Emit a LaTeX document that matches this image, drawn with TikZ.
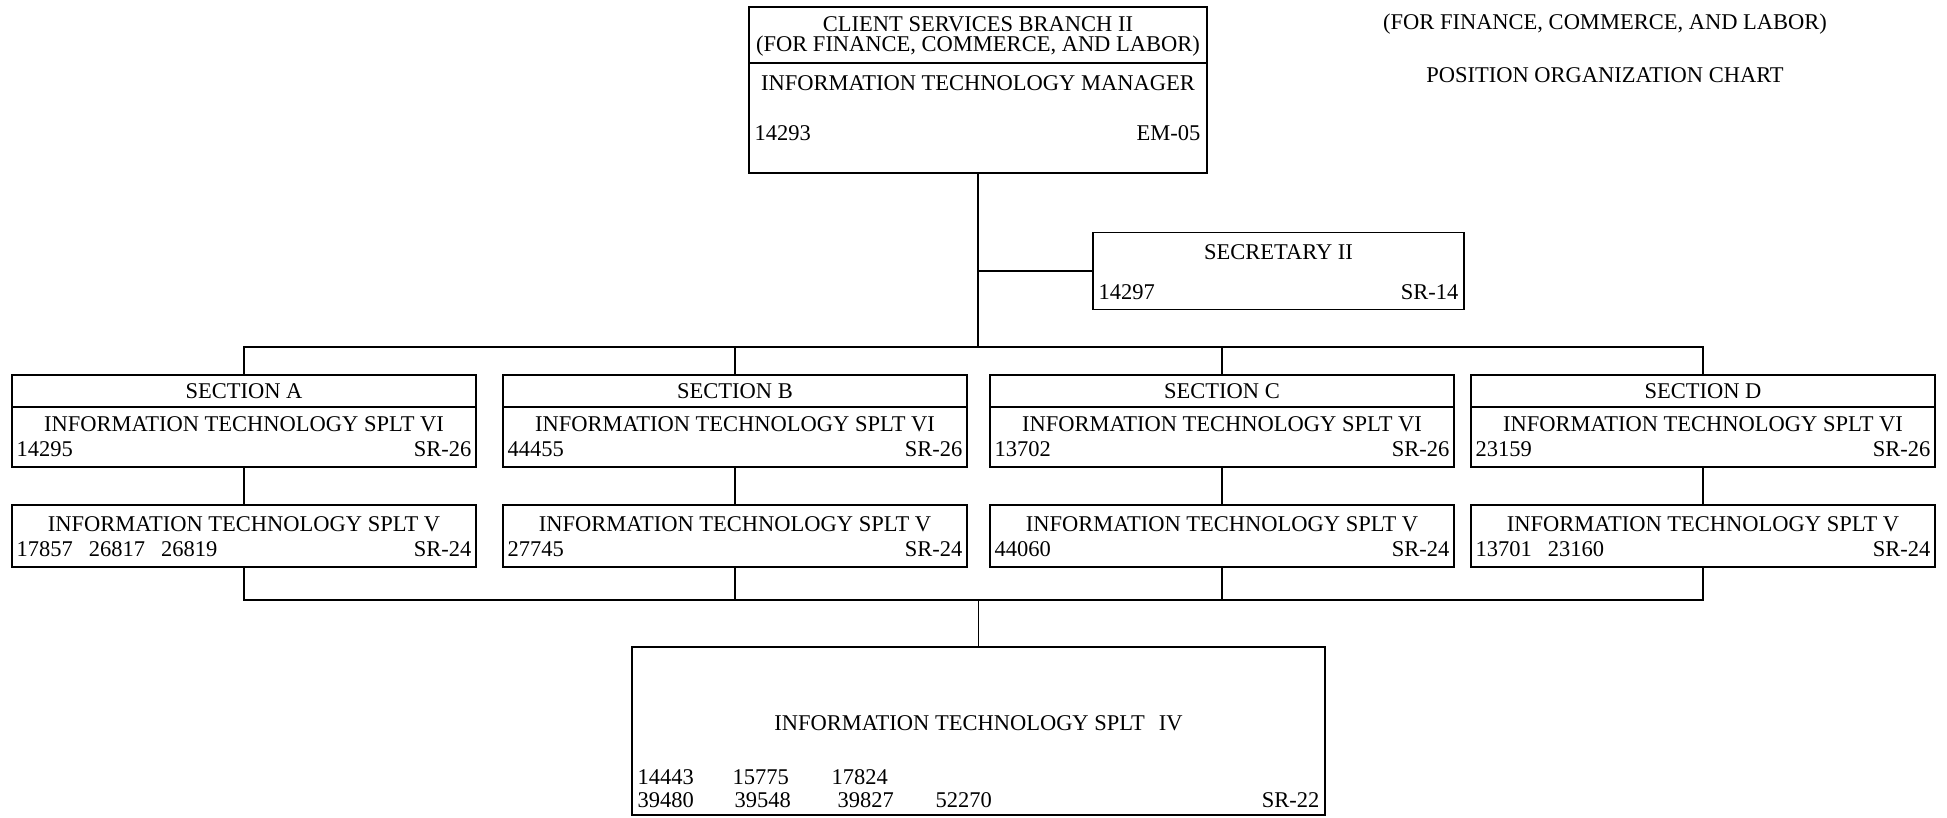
\documentclass[tikz,border=0pt]{standalone}
\usepackage{fontspec}
\setmainfont{Liberation Serif}
\usepackage{tikz}

\begin{document}
\begin{tikzpicture}[x=1pt,y=-1pt,line width=1.4pt,
    font=\fontsize{22.5}{24}\selectfont,
    box/.style={draw,black,rectangle,inner sep=0pt},
    txt/.style={inner sep=0pt,anchor=base},
    lft/.style={inner sep=0pt,anchor=base west},
    rgt/.style={inner sep=0pt,anchor=base east}]
    \useasboundingbox (0,0) rectangle (1947,817);
    % heading
    \node [txt] (hdfor) at (1605,29) {(FOR FINANCE, COMMERCE, AND LABOR)};
    \node [txt] (hdchart) at (1605,82) {POSITION ORGANIZATION CHART};
    % branch manager
    \node [box, minimum width=458pt, minimum height=166pt] (mgr) at (978,90) {};
    \draw (749,63) -- (1207,63);
    \node [txt] (mgrname) at (978,31) {CLIENT SERVICES BRANCH II};
    \node [txt] (mgrfor) at (978,51) {(FOR FINANCE, COMMERCE, AND LABOR)};
    \node [txt] (mgrtitle) at (978,90) {INFORMATION TECHNOLOGY MANAGER};
    \node [lft] (mgrno) at (754,140) {14293};
    \node [rgt] (mgrgr) at (1201,140) {EM-05};
    % secretary
    \node [box, minimum width=371pt, minimum height=77pt] (secy) at (1278.5,271) {};
    \node [txt] (secytitle) at (1278.5,259) {SECRETARY II};
    \node [lft] (secyno) at (1098,299) {14297};
    \node [rgt] (secygr) at (1459,299) {SR-14};
    % sections
    \node [box, minimum width=464pt, minimum height=92pt] (secA) at (244,421) {};
    \node [box, minimum width=464pt, minimum height=92pt] (secB) at (735,421) {};
    \node [box, minimum width=464pt, minimum height=92pt] (secC) at (1222,421) {};
    \node [box, minimum width=464pt, minimum height=92pt] (secD) at (1703,421) {};
    \draw (12,407) -- (476,407);
    \draw (503,407) -- (967,407);
    \draw (990,407) -- (1454,407);
    \draw (1471,407) -- (1935,407);
    \node [txt] (secAhd) at (244,398) {SECTION A};
    \node [txt] (secBhd) at (735,398) {SECTION B};
    \node [txt] (secChd) at (1222,398) {SECTION C};
    \node [txt] (secDhd) at (1703,398) {SECTION D};
    \node [txt] (secAtitle) at (244,431) {INFORMATION TECHNOLOGY SPLT VI};
    \node [txt] (secBtitle) at (735,431) {INFORMATION TECHNOLOGY SPLT VI};
    \node [txt] (secCtitle) at (1222,431) {INFORMATION TECHNOLOGY SPLT VI};
    \node [txt] (secDtitle) at (1703,431) {INFORMATION TECHNOLOGY SPLT VI};
    \node [lft] (secAno) at (16,456) {14295};
    \node [lft] (secBno) at (507,456) {44455};
    \node [lft] (secCno) at (994,456) {13702};
    \node [lft] (secDno) at (1475,456) {23159};
    \node [rgt] (secAgr) at (472,456) {SR-26};
    \node [rgt] (secBgr) at (963,456) {SR-26};
    \node [rgt] (secCgr) at (1450,456) {SR-26};
    \node [rgt] (secDgr) at (1931,456) {SR-26};
    % specialists V
    \node [box, minimum width=464pt, minimum height=62pt] (splvA) at (244,536) {};
    \node [box, minimum width=464pt, minimum height=62pt] (splvB) at (735,536) {};
    \node [box, minimum width=464pt, minimum height=62pt] (splvC) at (1222,536) {};
    \node [box, minimum width=464pt, minimum height=62pt] (splvD) at (1703,536) {};
    \node [txt] (splvAtitle) at (244,531) {INFORMATION TECHNOLOGY SPLT V};
    \node [txt] (splvBtitle) at (735,531) {INFORMATION TECHNOLOGY SPLT V};
    \node [txt] (splvCtitle) at (1222,531) {INFORMATION TECHNOLOGY SPLT V};
    \node [txt] (splvDtitle) at (1703,531) {INFORMATION TECHNOLOGY SPLT V};
    \node [lft] (splvAno) at (16,556) {17857\hspace{16pt}26817\hspace{16pt}26819};
    \node [lft] (splvBno) at (507,556) {27745};
    \node [lft] (splvCno) at (994,556) {44060};
    \node [lft] (splvDno) at (1475,556) {13701\hspace{16pt}23160};
    \node [rgt] (splvAgr) at (472,556) {SR-24};
    \node [rgt] (splvBgr) at (963,556) {SR-24};
    \node [rgt] (splvCgr) at (1450,556) {SR-24};
    \node [rgt] (splvDgr) at (1931,556) {SR-24};
    % specialists IV
    \node [box, minimum width=693pt, minimum height=168pt] (pool) at (978.5,731) {};
    \node [txt] (pooltitle) at (978.5,730) {INFORMATION TECHNOLOGY SPLT\hspace{14pt}IV};
    \node [lft] (poolnoa) at (637,784) {14443};
    \node [lft] (poolnob) at (732,784) {15775};
    \node [lft] (poolnoc) at (831,784) {17824};
    \node [lft] (poolnod) at (637,807) {39480};
    \node [lft] (poolnoe) at (734,807) {39548};
    \node [lft] (poolnof) at (837,807) {39827};
    \node [lft] (poolnog) at (935,807) {52270};
    \node [rgt] (poolgr) at (1320,807) {SR-22};
    % connectors
    \coordinate (busY) at (0,347);
    \coordinate (poolY) at (0,600);
    \draw (mgr.south) -- (mgr.south |- busY);
    \draw (secy.west) -- (secy.west -| mgr.south);
    \draw (secA.north) |- (mgr.south |- busY) -| (secD.north);
    \draw (secB.north) -- (secB.north |- busY);
    \draw (secC.north) -- (secC.north |- busY);
    \draw (secA.south) -- (splvA.north);
    \draw (secB.south) -- (splvB.north);
    \draw (secC.south) -- (splvC.north);
    \draw (secD.south) -- (splvD.north);
    \draw (splvA.south) |- (pool.north |- poolY) -| (splvD.south);
    \draw (splvB.south) -- (splvB.south |- poolY);
    \draw (splvC.south) -- (splvC.south |- poolY);
    \draw (pool.north |- poolY) -- (pool.north);
\end{tikzpicture}
\end{document}
